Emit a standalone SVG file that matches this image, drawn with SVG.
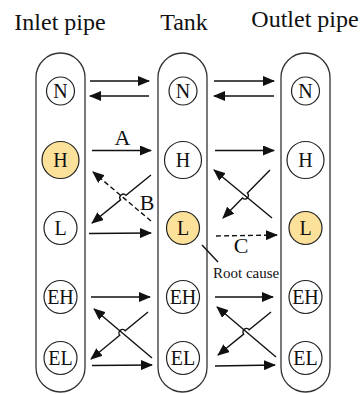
<svg xmlns="http://www.w3.org/2000/svg" width="364" height="394" viewBox="0 0 364 394">
  <style>
    .cap { fill: #fff; stroke: #333; stroke-width: 1.3; }
    .st { fill: #fff; stroke: #222; stroke-width: 1.2; }
    .hi { fill: #fce19a; stroke: #222; stroke-width: 1.2; }
    text { font-family: "Liberation Serif", "DejaVu Serif", "Times New Roman", serif; fill: #111; text-anchor: middle; }
    .title { font-size: 24px; }
    .st-t { font-size: 20px; }
    .e-t { font-size: 20px; }
    .tag { font-size: 22px; }
    .note { font-size: 15px; text-anchor: start; }
    .ln { fill: none; stroke: #111; stroke-width: 1.4; }
    .dash { stroke-dasharray: 5 3; }
  </style>
  <defs>
    <marker id="ah" viewBox="0 0 12 10" refX="11" refY="5" markerWidth="12" markerHeight="10" markerUnits="userSpaceOnUse" orient="auto">
      <path d="M0,0 L12,5 L0,10 z" fill="#111"/>
    </marker>
  </defs>

  <!-- column titles -->
  <text class="title" x="60" y="30" font-family="Liberation Serif, serif">Inlet pipe</text>
  <text class="title" x="184" y="30" font-family="Liberation Serif, serif">Tank</text>
  <text class="title" x="305" y="27" font-family="Liberation Serif, serif">Outlet pipe</text>

  <!-- inlet pipe column -->
  <g id="inlet" font-family="Liberation Serif, serif">
    <rect class="cap" x="36" y="53" width="49" height="339" rx="24.5" ry="24.5"/>
    <g id="inlet-N"><circle class="st" cx="60.5" cy="91" r="14"/><text class="st-t" x="60.5" y="98">N</text></g>
    <g id="inlet-H"><circle class="hi" cx="60.5" cy="160" r="18.5"/><text class="st-t" x="60.5" y="167">H</text></g>
    <g id="inlet-L"><circle class="st" cx="60.5" cy="228" r="16.5"/><text class="st-t" x="60.5" y="235">L</text></g>
    <g id="inlet-EH"><circle class="st" cx="60.5" cy="297" r="16.5"/><text class="e-t" x="60.5" y="304">EH</text></g>
    <g id="inlet-EL"><circle class="st" cx="60.5" cy="358" r="16.5"/><text class="e-t" x="60.5" y="365">EL</text></g>
  </g>

  <!-- tank column -->
  <g id="tank" font-family="Liberation Serif, serif">
    <rect class="cap" x="158" y="53" width="49" height="339" rx="24.5" ry="24.5"/>
    <g id="tank-N"><circle class="st" cx="183" cy="91" r="14"/><text class="st-t" x="183" y="98">N</text></g>
    <g id="tank-H"><circle class="st" cx="183" cy="160" r="18.5"/><text class="st-t" x="183" y="167">H</text></g>
    <g id="tank-L"><circle class="hi" cx="183" cy="228" r="16.5"/><text class="st-t" x="183" y="235">L</text></g>
    <g id="tank-EH"><circle class="st" cx="183" cy="297" r="16.5"/><text class="e-t" x="183" y="304">EH</text></g>
    <g id="tank-EL"><circle class="st" cx="183" cy="358" r="16.5"/><text class="e-t" x="183" y="365">EL</text></g>
  </g>

  <!-- outlet pipe column -->
  <g id="outlet" font-family="Liberation Serif, serif">
    <rect class="cap" x="281" y="53" width="49" height="339" rx="24.5" ry="24.5"/>
    <g id="outlet-N"><circle class="st" cx="305.5" cy="91" r="14"/><text class="st-t" x="305.5" y="98">N</text></g>
    <g id="outlet-H"><circle class="st" cx="305.5" cy="160" r="18.5"/><text class="st-t" x="305.5" y="167">H</text></g>
    <g id="outlet-L"><circle class="hi" cx="305.5" cy="228" r="16.5"/><text class="st-t" x="305.5" y="235">L</text></g>
    <g id="outlet-EH"><circle class="st" cx="305.5" cy="297" r="16.5"/><text class="e-t" x="305.5" y="304">EH</text></g>
    <g id="outlet-EL"><circle class="st" cx="305.5" cy="358" r="16.5"/><text class="e-t" x="305.5" y="365">EL</text></g>
  </g>

  <!-- transitions -->
  <g id="connectors">
    <!-- N level -->
    <path class="ln" d="M90,81 L149,81" marker-end="url(#ah)"/>
    <path class="ln" d="M149,96 L90,96" marker-end="url(#ah)"/>
    <path class="ln" d="M214,81 L274,81" marker-end="url(#ah)"/>
    <path class="ln" d="M274,96 L214,96" marker-end="url(#ah)"/>

    <!-- H level -->
    <path class="ln" d="M92,150.5 L151,150.5" marker-end="url(#ah)"/>
    <path class="ln" d="M215,150.5 L274,150.5" marker-end="url(#ah)"/>

    <!-- H/L crossings, inlet side -->
    <path class="ln dash" d="M151,221 L93,172" marker-end="url(#ah)"/>
    <path class="ln" d="M151,175 L125.97,195.36 A3.5,3.5 0 0 0 120.55,199.78 L92,223" marker-end="url(#ah)"/>

    <!-- H/L crossings, outlet side -->
    <path class="ln" d="M272,218 L214,170" marker-end="url(#ah)"/>
    <path class="ln" d="M270,170 L247.38,193.1 A3.5,3.5 0 0 1 242.48,198.1 L223,218" marker-end="url(#ah)"/>

    <!-- L level -->
    <path class="ln" d="M89,233.5 L151,233" marker-end="url(#ah)"/>
    <path class="ln dash" d="M216,236 L277,235" marker-end="url(#ah)"/>

    <!-- root cause pointer -->
    <path class="ln" d="M202,245 L218,262"/>

    <!-- EH level -->
    <path class="ln" d="M91,297 L150,297" marker-end="url(#ah)"/>
    <path class="ln" d="M215,297 L273,297" marker-end="url(#ah)"/>

    <!-- EH/EL crossings, inlet side -->
    <path class="ln" d="M152,358 L94,309" marker-end="url(#ah)"/>
    <path class="ln" d="M148,312 L125.17,330.82 A3.5,3.5 0 0 0 119.77,335.28 L91,359" marker-end="url(#ah)"/>

    <!-- EH/EL crossings, outlet side -->
    <path class="ln" d="M276,357 L217,307" marker-end="url(#ah)"/>
    <path class="ln" d="M271,312 L249.15,329.74 A3.5,3.5 0 0 0 243.71,334.15 L218,355" marker-end="url(#ah)"/>

    <!-- EL level -->
    <path class="ln" d="M92,365.5 L152,365" marker-end="url(#ah)"/>
    <path class="ln" d="M215,366 L275,365" marker-end="url(#ah)"/>
  </g>

  <!-- transition labels -->
  <g id="labels" font-family="Liberation Serif, serif">
    <text class="tag" x="122.5" y="145">A</text>
    <text class="tag" x="147" y="210">B</text>
    <text class="tag" x="241" y="253">C</text>
    <text class="note" x="213" y="278">Root cause</text>
  </g>
</svg>
